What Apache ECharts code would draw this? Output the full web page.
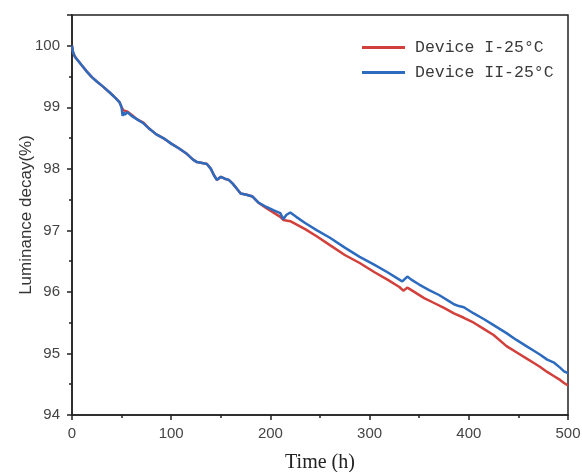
<!DOCTYPE html>
<html>
<head>
<meta charset="utf-8">
<script src="https://cdn.jsdelivr.net/npm/echarts@6/dist/echarts.min.js"></script>
<style>
  html, body { margin: 0; padding: 0; background: #fff; }
  #container { width: 582px; height: 472px; }
</style>
</head>
<body>
<div id="container"></div>
<script>
// Device II - 25°C (blue)
var timeII = [0, 1, 3, 6, 10, 15, 20, 25, 31, 38, 44, 48, 50, 51, 52, 53, 56, 60, 66, 72, 78, 85, 92, 100, 108, 116, 122, 126, 130, 136, 140, 143, 146, 150, 154, 158, 162, 166, 170, 176, 182, 188, 196, 204, 210, 213, 216, 220, 226, 235, 247, 260, 275, 290, 305, 318, 330, 333, 338, 342, 350, 360, 370, 380, 385, 390, 395, 405, 415, 425, 438, 448, 458, 466, 472, 479, 486, 492, 496, 500];
var lumII = [100.0, 99.9, 99.82, 99.76, 99.68, 99.58, 99.49, 99.42, 99.34, 99.24, 99.15, 99.08, 99.0, 98.86, 98.92, 98.88, 98.92, 98.86, 98.8, 98.74, 98.65, 98.56, 98.5, 98.41, 98.33, 98.24, 98.15, 98.11, 98.1, 98.08, 98.0, 97.9, 97.82, 97.87, 97.84, 97.82, 97.76, 97.68, 97.6, 97.58, 97.55, 97.45, 97.38, 97.32, 97.28, 97.18, 97.25, 97.29, 97.22, 97.12, 97.0, 96.88, 96.72, 96.57, 96.44, 96.32, 96.2, 96.17, 96.25, 96.2, 96.12, 96.03, 95.95, 95.85, 95.8, 95.77, 95.75, 95.65, 95.56, 95.46, 95.33, 95.22, 95.12, 95.04, 94.98, 94.9, 94.85, 94.77, 94.71, 94.68];

// Device I - 25°C (red)
var timeI = [0, 1, 3, 6, 10, 15, 20, 25, 31, 38, 44, 48, 50, 52, 56, 60, 66, 72, 78, 85, 92, 100, 108, 116, 122, 126, 130, 136, 140, 143, 146, 150, 154, 158, 162, 166, 170, 176, 182, 188, 196, 204, 210, 213, 220, 235, 247, 260, 275, 290, 305, 318, 330, 334, 338, 345, 355, 365, 375, 385, 395, 405, 415, 425, 438, 448, 458, 466, 472, 479, 486, 492, 496, 500];
var lumI = [100.0, 99.9, 99.82, 99.76, 99.68, 99.58, 99.49, 99.42, 99.34, 99.24, 99.15, 99.08, 99.0, 98.95, 98.93, 98.88, 98.8, 98.75, 98.65, 98.56, 98.5, 98.41, 98.33, 98.24, 98.15, 98.11, 98.1, 98.08, 98.0, 97.9, 97.82, 97.87, 97.84, 97.82, 97.76, 97.68, 97.6, 97.58, 97.55, 97.45, 97.36, 97.28, 97.22, 97.17, 97.15, 97.02, 96.9, 96.76, 96.6, 96.47, 96.32, 96.2, 96.08, 96.02, 96.07, 96.0, 95.9, 95.82, 95.74, 95.65, 95.58, 95.5, 95.4, 95.3, 95.12, 95.02, 94.92, 94.84, 94.78, 94.7, 94.63, 94.57, 94.52, 94.48];

var seriesNames = ['Device I-25°C', 'Device II-25°C'];
var xTicks = [0, 100, 200, 300, 400, 500];
var yTicks = [94, 95, 96, 97, 98, 99, 100];

function pairs(t, v) {
    var out = [];
    for (var i = 0; i < t.length; i++) out.push([t[i], v[i]]);
    return out;
}

var myChart = echarts.init(document.getElementById('container'), null, { renderer: 'canvas' });

var option = {
    backgroundColor: '#fff',
    animation: false,
    grid: {
        left: 72, right: 14, top: 15, bottom: 57,
        outerBoundsMode: 'none',
        containLabel: false,
        show: true,
        borderColor: '#222',
        borderWidth: 1.5
    },
    legend: {
        orient: 'vertical',
        left: 357,
        top: 34,
        icon: 'rect',
        itemWidth: 43,
        itemHeight: 3,
        itemGap: 8,
        data: seriesNames,
        textStyle: {
            fontFamily: 'Liberation Mono',
            fontSize: 16.5,
            color: '#3a3a3a',
            padding: [0, 0, 0, 5]
        }
    },
    xAxis: {
        type: 'value',
        min: xTicks[0],
        max: xTicks[xTicks.length - 1],
        interval: 100,
        name: 'Time (h)',
        nameLocation: 'middle',
        nameGap: 38,
        nameMoveOverlap: false,
        nameTextStyle: { fontFamily: 'Liberation Serif', fontSize: 20, color: '#222' },
        axisLine: { onZero: false, lineStyle: { color: '#222', width: 1.5 } },
        axisTick: { show: true, inside: false, length: 5, lineStyle: { color: '#222', width: 1.5 } },
        minorTick: { show: true, splitNumber: 2, length: 3, lineStyle: { color: '#222', width: 1.5 } },
        axisLabel: { margin: 11, fontFamily: 'Liberation Sans', fontSize: 15, color: '#444' },
        splitLine: { show: false }
    },
    yAxis: {
        type: 'value',
        min: yTicks[0],
        max: 100.5,
        interval: 1,
        name: 'Luminance decay(%)',
        nameLocation: 'middle',
        nameGap: 37,
        nameMoveOverlap: false,
        nameTextStyle: { fontFamily: 'Liberation Sans', fontSize: 17, color: '#333' },
        axisLine: { onZero: false, lineStyle: { color: '#222', width: 1.5 } },
        axisTick: { show: true, inside: false, length: 5, lineStyle: { color: '#222', width: 1.5 } },
        minorTick: { show: true, splitNumber: 2, length: 3, lineStyle: { color: '#222', width: 1.5 } },
        axisLabel: {
            margin: 12,
            fontFamily: 'Liberation Sans',
            fontSize: 15,
            color: '#444',
            showMaxLabel: false,
            formatter: function (v) {
                return yTicks.indexOf(v) >= 0 ? String(v) : '';
            }
        },
        splitLine: { show: false }
    },
    series: [
        {
            name: seriesNames[0],
            type: 'line',
            symbol: 'none',
            data: pairs(timeI, lumI),
            lineStyle: { color: '#d2403c', width: 2.5 },
            itemStyle: { color: '#d2403c' },
            z: 2
        },
        {
            name: seriesNames[1],
            type: 'line',
            symbol: 'none',
            data: pairs(timeII, lumII),
            lineStyle: { color: '#2d6bbf', width: 2.5 },
            itemStyle: { color: '#2d6bbf' },
            z: 3
        }
    ]
};
myChart.setOption(option);
</script>
</body>
</html>
